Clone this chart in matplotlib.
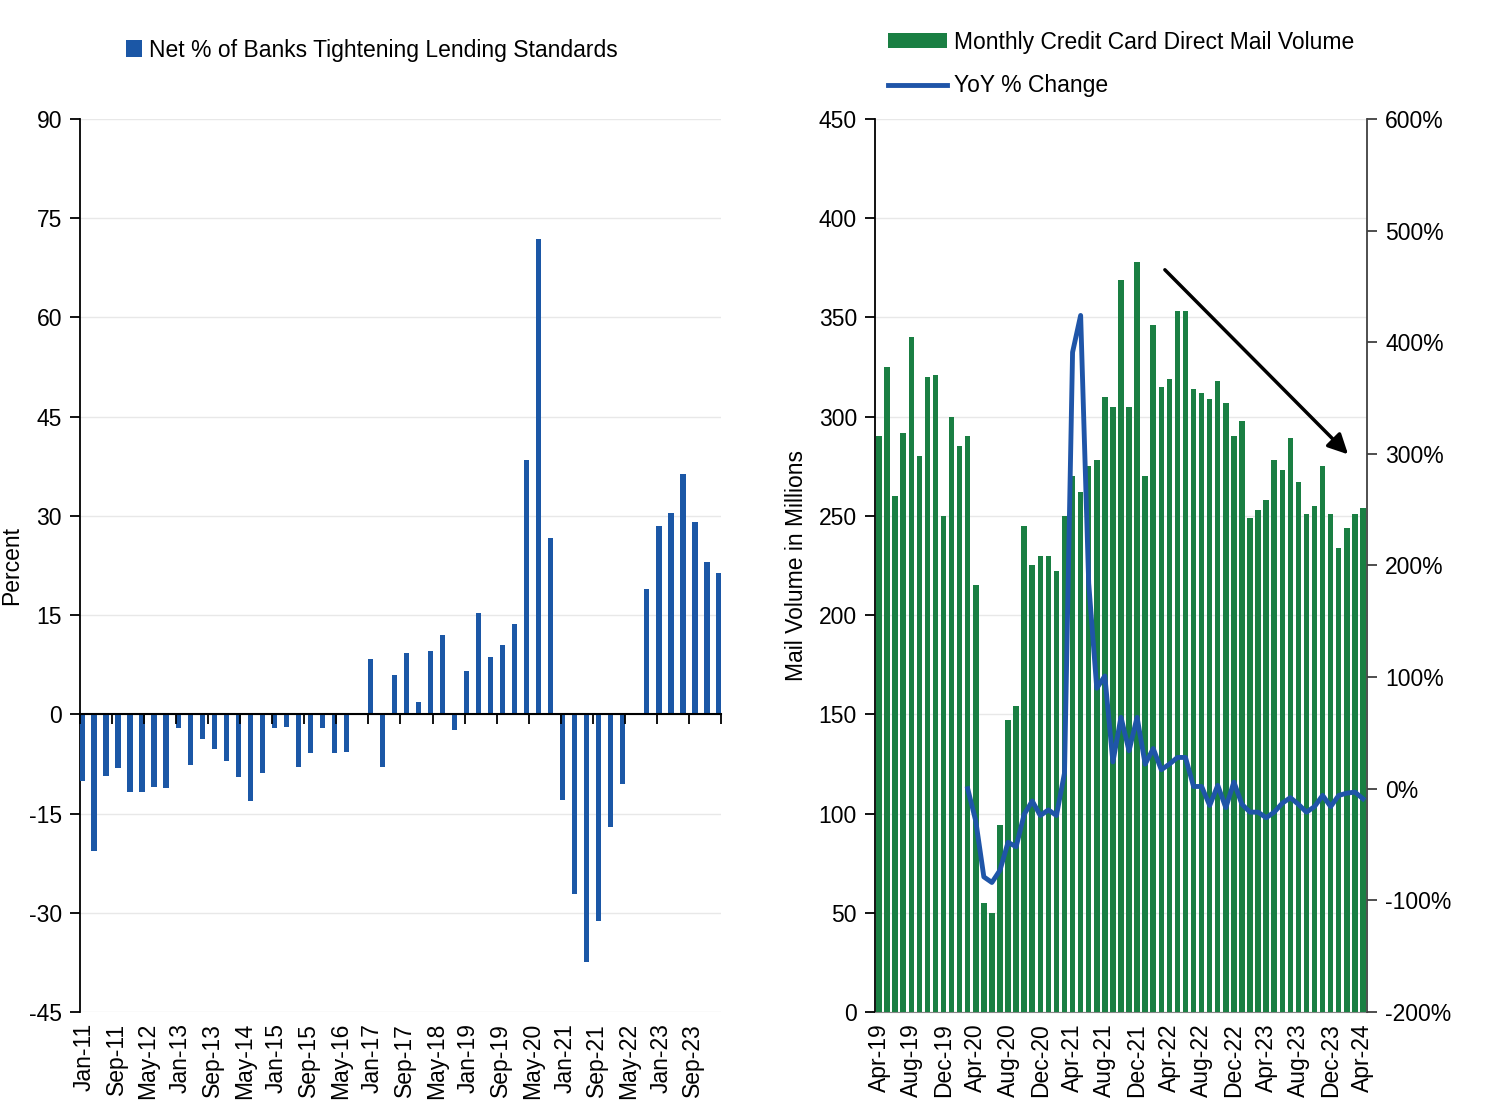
import matplotlib.pyplot as plt

plt.rcParams['font.family'] = ['Liberation Sans', 'DejaVu Sans']
plt.rcParams['font.size'] = 16.5
plt.rcParams['axes.unicode_minus'] = False

# Net % of banks tightening lending standards, quarterly Jan-11 .. Apr-24
tightening = [-10.1, -20.6, -9.4, -8.1, -11.7, -11.7, -11.0, -11.2, -2.1, -7.6,
              -3.7, -5.3, -7.1, -9.5, -13.1, -8.9, -2.0, -1.9, -7.9, -5.9,
              -2.0, -5.8, -5.7, 0.0, 8.3, -7.9, 5.9, 9.2, 1.9, 9.5,
              12.0, -2.4, 6.5, 15.3, 8.6, 10.5, 13.7, 38.5, 71.8, 26.7,
              -13.0, -27.2, -37.5, -31.3, -17.1, -10.6, 0.0, 18.9, 28.4, 30.5,
              36.4, 29.0, 23.0, 21.3]
left_tick_labels = ['Jan-11', 'Sep-11', 'May-12', 'Jan-13', 'Sep-13', 'May-14', 'Jan-15',
                    'Sep-15', 'May-16', 'Jan-17', 'Sep-17', 'May-18', 'Jan-19', 'Sep-19',
                    'May-20', 'Jan-21', 'Sep-21', 'May-22', 'Jan-23', 'Sep-23']

# Monthly credit card direct mail volume (millions), Apr-19 .. Apr-24
mail_volume = [290, 325, 260, 292, 340, 280, 320, 321, 250, 300,
               285, 290, 215, 55, 50, 94, 147, 154, 245, 225,
               230, 230, 222, 250, 270, 262, 275, 278, 310, 305,
               369, 305, 378, 270, 346, 315, 319, 353, 353, 314,
               312, 309, 318, 307, 290, 298, 249, 253, 258, 278,
               273, 289, 267, 251, 255, 275, 251, 234, 244, 251, 254]
# YoY % change, Mar-20 .. Apr-24
yoy_change = [0, -29, -79, -84, -73, -48, -52, -23, -11, -24,
              -19, -24, 14, 391, 424, 184, 90, 101, 24, 64,
              34, 64, 22, 36, 17, 22, 28, 28, 2, 2,
              -15, 3, -17, 6, -14, -21, -21, -26, -21, -13,
              -8, -14, -21, -16, -6, -16, -6, -4, -3, -9]
yoy_start = 11  # index of Mar-20 in the monthly series
right_tick_labels = ['Apr-19', 'Aug-19', 'Dec-19', 'Apr-20', 'Aug-20', 'Dec-20', 'Apr-21',
                     'Aug-21', 'Dec-21', 'Apr-22', 'Aug-22', 'Dec-22', 'Apr-23', 'Aug-23',
                     'Dec-23', 'Apr-24']

BLUE = '#1b57a6'
GREEN = '#1a7f43'
LINE_BLUE = '#1f55a8'
GRID = '#e8e8e8'

fig = plt.figure(figsize=(14.86, 11.14), dpi=100)

# ---------------- left chart ----------------
ax = fig.add_axes([0.0538, 0.0916, 0.4314, 0.8016])
months = [3 * i + 0.5 for i in range(len(tightening))]
bars_l = ax.bar(months, tightening, width=1.3, color=BLUE, zorder=3,
                label='Net % of Banks Tightening Lending Standards')
ax.set_xlim(0, 160)
ax.set_ylim(-45, 90)
ax.set_yticks(range(-45, 91, 15))
ax.grid(axis='y', color=GRID, lw=1, zorder=0)
ax.set_axisbelow(True)
for s in ['top', 'right', 'bottom']:
    ax.spines[s].set_visible(False)
ax.spines['left'].set_color('black')
ax.spines['left'].set_linewidth(1.3)
ax.tick_params(axis='y', direction='out', length=7, width=1.3, pad=6)
ax.set_xticks([8 * k + 1 for k in range(len(left_tick_labels))])
ax.set_xticklabels(left_tick_labels, rotation=90)
ax.tick_params(axis='x', length=0, pad=8)
ax.set_ylabel('Percent', labelpad=4)

zero_axis = ax.secondary_xaxis(1 / 3)
zero_axis.set_xticks(range(0, 161, 8))
zero_axis.set_xticklabels([])
zero_axis.tick_params(direction='out', length=7, width=1.3, color='black')
zero_axis.spines['bottom'].set_linewidth(1.5)
zero_axis.spines['bottom'].set_color('black')
zero_axis.set_zorder(4)

fig.legend(handles=[bars_l], loc='center', bbox_to_anchor=(372 / 1486, 1 - 50 / 1114),
           frameon=False, handlelength=0.7, handleheight=0.7, handletextpad=0.3)

# ---------------- right chart ----------------
axr = fig.add_axes([0.5888, 0.0916, 0.3311, 0.8016])
idx = list(range(len(mail_volume)))
bars_r = axr.bar(idx, mail_volume, width=0.68, color=GREEN, zorder=3,
                 label='Monthly Credit Card Direct Mail Volume')
axr.set_xlim(-0.5, len(mail_volume) - 0.5)
axr.set_ylim(0, 450)
axr.set_yticks(range(0, 451, 50))
axr.grid(axis='y', color=GRID, lw=1, zorder=0)
axr.set_axisbelow(True)
axr.spines['top'].set_visible(False)
axr.spines['right'].set_visible(False)
axr.spines['left'].set_linewidth(1.3)
axr.spines['bottom'].set_color('#888888')
axr.tick_params(axis='y', direction='out', length=7, width=1.3, pad=6)
axr.set_xticks(range(0, len(mail_volume), 4))
axr.set_xticklabels(right_tick_labels, rotation=90)
axr.tick_params(axis='x', length=0, pad=8)
axr.set_ylabel('Mail Volume in Millions', labelpad=8)

ax2 = axr.twinx()
yoy_idx = list(range(yoy_start, yoy_start + len(yoy_change)))
line, = ax2.plot(yoy_idx, yoy_change, color=LINE_BLUE, lw=3.5, zorder=4,
                 label='YoY % Change')
ax2.set_ylim(-200, 600)
ax2.set_yticks(range(-200, 601, 100))
ax2.set_yticklabels([f'{v}%' for v in range(-200, 601, 100)])
for s in ['top', 'left', 'bottom']:
    ax2.spines[s].set_visible(False)
ax2.spines['right'].set_color('#404040')
ax2.spines['right'].set_linewidth(1.3)
ax2.tick_params(axis='y', direction='out', length=7, width=1.3, pad=6, color='#404040')

axr.annotate('', xy=(58.4, 280), xytext=(35.2, 375),
             arrowprops=dict(arrowstyle='-|>', color='black', lw=2.5, mutation_scale=30),
             zorder=5)

fig.legend(handles=[bars_r, line], loc='upper left',
           bbox_to_anchor=(867 / 1486, 1 - 10 / 1114), frameon=False,
           handlelength=2.6, handleheight=0.6, handletextpad=0.3, labelspacing=0.9)

fig.savefig('out.png', dpi=100)
